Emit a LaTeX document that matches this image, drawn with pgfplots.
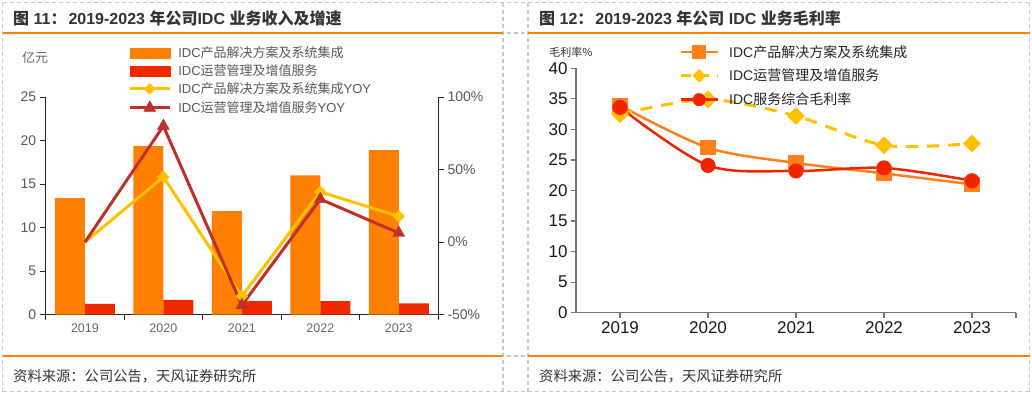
\documentclass[border=0pt]{standalone}
\usepackage{pgfplots}
\pgfplotsset{compat=1.18}
\usepackage{fontspec}
\setmainfont{Liberation Sans}
\newfontfamily\cjk{Noto Sans CJK SC}
\definecolor{barorg}{HTML}{FF7F00}
\definecolor{barred}{HTML}{F02800}
\definecolor{yoyyel}{HTML}{FFC000}
\definecolor{yoyred}{HTML}{C0302A}
\definecolor{lnorg}{HTML}{FF7F1A}
\definecolor{lnred}{HTML}{F02500}
\definecolor{framec}{HTML}{C8C8C8}
\definecolor{rulec}{HTML}{FF7F00}
\definecolor{txtc}{HTML}{333333}
\newcommand\fs[1]{\fontsize{#1}{#1}\selectfont}
\pgfplotsset{
  legA/.style={legend image code/.code={\fill[barorg] (0pt,-5pt) rectangle (40pt,5pt);}},
  legB/.style={legend image code/.code={\fill[barred] (0pt,-5pt) rectangle (40pt,5pt);}},
  legC/.style={legend image code/.code={\draw[yoyyel, line width=3pt] (0pt,0pt) -- (40pt,0pt);
      \fill[yoyyel] (20pt,0pt) +(0,5.5pt) -- +(5.5pt,0) -- +(0,-5.5pt) -- +(-5.5pt,0) -- cycle;}},
  legD/.style={legend image code/.code={\draw[yoyred, line width=3pt] (0pt,0pt) -- (40pt,0pt);
      \fill[yoyred] (20pt,0pt) +(0,7pt) -- +(6pt,-3.5pt) -- +(-6pt,-3.5pt) -- cycle;}},
  legE/.style={legend image code/.code={\draw[lnorg, line width=2.5pt] (0pt,0pt) -- (37pt,0pt);
      \fill[lnorg] (12pt,-6.3pt) rectangle (24.6pt,6.3pt);}},
  legF/.style={legend image code/.code={\draw[yoyyel, line width=3pt, dash pattern=on 10pt off 8pt] (0pt,0pt) -- (37pt,0pt);
      \fill[yoyyel] (18.5pt,0pt) +(0,6.5pt) -- +(6.5pt,0) -- +(0,-6.5pt) -- +(-6.5pt,0) -- cycle;}},
  legG/.style={legend image code/.code={\draw[lnred, line width=2.5pt] (0pt,0pt) -- (37pt,0pt);
      \fill[lnred] (18.5pt,0pt) circle (6.3pt);}},
}
\begin{document}
\begin{tikzpicture}
\begin{scope}[x=1pt,y=-1pt]
\path[use as bounding box] (0,0) rectangle (1032,394);
% frame grid
\draw[framec, line width=1.2pt, dash pattern=on 4pt off 3pt]
  (2.5,2.5) -- (1029.5,2.5)
  (2.5,33) -- (1029.5,33)
  (2.5,356) -- (1029.5,356)
  (2.5,391.5) -- (1029.5,391.5)
  (2.5,2.5) -- (2.5,391.5)
  (503,2.5) -- (503,391.5)
  (528,2.5) -- (528,391.5)
  (1029.5,2.5) -- (1029.5,391.5);
\draw[rulec, line width=2pt] (2.5,33) -- (503,33) (528,33) -- (1029.5,33)
  (2.5,356) -- (503,356) (528,356) -- (1029.5,356);
% titles
\node[anchor=west, inner sep=0pt, text=txtc, font=\fs{16}\bfseries] at (13,18)
  {{\cjk 图} 11{\cjk ：}\hspace{2pt}2019-2023 {\cjk 年公司}IDC {\cjk 业务收入及增速}};
\node[anchor=west, inner sep=0pt, text=txtc, font=\fs{16}\bfseries] at (539,18)
  {{\cjk 图} 12{\cjk ：}\hspace{2pt}2019-2023 {\cjk 年公司} IDC {\cjk 业务毛利率}};
% sources
\node[anchor=west, inner sep=0pt, text=txtc, font=\fs{14.3}\cjk] at (13,376) {资料来源：公司公告，天风证券研究所};
\node[anchor=west, inner sep=0pt, text=txtc, font=\fs{14.3}\cjk] at (539,376) {资料来源：公司公告，天风证券研究所};
% unit labels
\node[anchor=center, inner sep=0pt, text=black!60, font=\fs{13}\cjk] at (35,58) {亿元};
\node[anchor=center, inner sep=0pt, text=txtc, font=\fs{11}\cjk] at (571,52) {毛利率\%};
\end{scope}

% ---------- left chart: bars ----------
\begin{axis}[
  at={(45.7pt,-314.7pt)}, anchor=south west,
  scale only axis, width=392.3pt, height=217.7pt,
  xmin=2018.5, xmax=2023.5, ymin=0, ymax=25,
  axis x line*=bottom, axis y line*=left,
  axis line style={-, black!85, line width=1pt},
  tick align=outside,
  xtick={2019,2020,2021,2022,2023},
  xticklabels={2019,2020,2021,2022,2023},
  major x tick style={draw=none},
  minor xtick={2018.5,2019.5,2020.5,2021.5,2022.5,2023.5},
  minor tick length=5pt, major tick length=6pt,
  tick style={black!85, line width=1pt},
  ytick={0,5,10,15,20,25}, yticklabels={0,5,10,15,20,25},
  x tick label style={font=\fs{12.5}, text=black!60},
  y tick label style={font=\fs{14}, text=black!65},
]
\addplot[ybar, bar width=30pt, bar shift=-15pt, fill=barorg, draw=none]
  coordinates {(2019,13.4)(2020,19.35)(2021,11.9)(2022,16.0)(2023,18.9)};
\addplot[ybar, bar width=30pt, bar shift=15pt, fill=barred, draw=none]
  coordinates {(2019,1.23)(2020,1.69)(2021,1.57)(2022,1.57)(2023,1.31)};
\end{axis}

% ---------- left chart: YOY ----------
\begin{axis}[
  at={(45.7pt,-314.7pt)}, anchor=south west,
  scale only axis, width=392.3pt, height=217.7pt,
  xmin=2018.5, xmax=2023.5, ymin=-50, ymax=100,
  axis x line=none, axis y line*=right,
  axis line style={-, black!85, line width=1pt},
  tick align=outside, major tick length=6pt,
  tick style={black!85, line width=1pt},
  ytick={-50,0,50,100}, yticklabels={-50\%,0\%,50\%,100\%},
  y tick label style={font=\fs{14}, text=black!65},
  legend style={at={(0.21,1.232)}, anchor=north west, draw=none, fill=none,
    inner sep=0pt, font=\fs{13}, text=black!65, row sep=5.5pt, column sep=7pt,
    nodes={inner sep=0pt}},
  legend cell align=left,
]
\addlegendimage{legA}
\addlegendentry{IDC{\cjk 产品解决方案及系统集成}}
\addlegendimage{legB}
\addlegendentry{IDC{\cjk 运营管理及增值服务}}
\addlegendimage{legC}
\addlegendentry{IDC{\cjk 产品解决方案及系统集成}YOY}
\addlegendimage{legD}
\addlegendentry{IDC{\cjk 运营管理及增值服务}YOY}

\addplot[yoyyel, line width=3pt, forget plot] coordinates {(2019,0)(2020,44.9)(2021,-37.3)(2022,34.6)(2023,17.8)};
\addplot[yoyyel, only marks, mark=square*, mark size=4.2pt, mark options={rotate=45}, forget plot] coordinates {(2020,44.9)(2021,-37.3)(2022,34.6)(2023,17.8)};
\addplot[yoyred, line width=3pt, forget plot] coordinates {(2019,0)(2020,80)(2021,-43.5)(2022,29.6)(2023,6.3)};
\addplot[yoyred, only marks, mark=triangle*, mark size=7pt, forget plot] coordinates {(2020,80)(2021,-43.5)(2022,29.6)(2023,6.3)};
\end{axis}

% ---------- right chart ----------
\begin{axis}[
  at={(576pt,-312.7pt)}, anchor=south west,
  scale only axis, width=440pt, height=244.4pt,
  xmin=2018.5, xmax=2023.5, ymin=0, ymax=40,
  axis x line*=bottom, axis y line*=left,
  axis line style={-, black!55, line width=1.2pt},
  tick align=outside, major tick length=5pt,
  tick style={black!55, line width=1.2pt},
  xtick={2019,2020,2021,2022,2023}, xticklabels={2019,2020,2021,2022,2023},
  extra x ticks={2023.5}, extra x tick labels={},
  ytick={0,5,10,15,20,25,30,35,40}, yticklabels={0,5,10,15,20,25,30,35,40},
  x tick label style={font=\fs{17}, text=black!90},
  y tick label style={font=\fs{17}, text=black!90},
  legend style={at={(0.234,1.095)}, anchor=north west, draw=none, fill=none,
    inner sep=0pt, font=\fs{14}, text=black!85, row sep=10.5pt, column sep=10pt,
    nodes={inner sep=0pt}},
  legend cell align=left,
]
\addlegendimage{legE}
\addlegendentry{IDC{\cjk 产品解决方案及系统集成}}
\addlegendimage{legF}
\addlegendentry{IDC{\cjk 运营管理及增值服务}}
\addlegendimage{legG}
\addlegendentry{IDC{\cjk 服务综合毛利率}}

\addplot[lnorg, line width=2.5pt, smooth, tension=0.5, mark=square*, mark size=6.3pt, forget plot]
  coordinates {(2019,33.9)(2020,27.0)(2021,24.5)(2022,22.8)(2023,21.0)};
\addplot[yoyyel, line width=3pt, smooth, tension=0.5, dash pattern=on 12pt off 9pt, mark=square*, mark size=4.8pt, mark options={solid, rotate=45}, forget plot]
  coordinates {(2019,32.5)(2020,34.9)(2021,32.2)(2022,27.4)(2023,27.7)};
\addplot[lnred, line width=2.5pt, smooth, tension=0.5, mark=*, mark size=6.3pt, forget plot]
  coordinates {(2019,33.6)(2020,24.1)(2021,23.2)(2022,23.7)(2023,21.6)};
\end{axis}
\end{tikzpicture}
\end{document}
